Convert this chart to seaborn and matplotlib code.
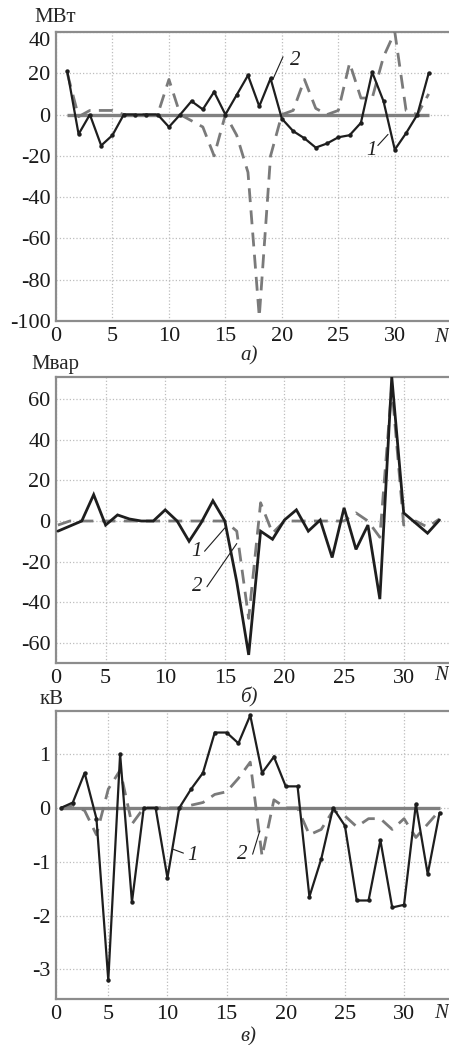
import numpy as np
import pandas as pd
import matplotlib.pyplot as plt
import seaborn as sns

# node numbers
N = list(range(1, 34))

# a) active power, MW
p_line1 = [21, -9.5, 0, -15, -10, 0, 0, 0, 0, -6, 0, 6.5, 2.5, 11, 0, 9.5, 19, 4, 17.5, -2,
           -8, -11.5, -16, -14, -11, -10, -4, 20.5, 6.5, -17, -9, 0, 20]
p_line2 = [20, -1, 2, 2, 2, 0, 0, 0, 0, 17, 0, -3, -6, -20, 0, -10, -28, -98, -20, 0,
           2, 17, 3, 0, 2, 25, 8, 8, 28, 40, 2, 0, 10]

# b) reactive power, Mvar
q_line1 = [-5, -2.5, 0, 13, -2, 3, 1, 0, 0, 5.5, 0, -10, -1, 10, 0, -30, -66, -5, -9, 0.5,
           5.5, -5, 0.5, -18, 6.5, -14, -2, -38.5, 71, 4, -1, -6, 0.5]
q_line2 = [-2, 0, 0, 0, 0, 0, 0, 0, 0, 0, 0, 0, 0, 0, 0, -5, -48, 9, -6, 0,
           0, 0, 0, 0, 0, 4, 0, -8, 66, -2, 0, -3, 1]

# c) voltage, kV
u_line1 = [0, 0.1, 0.65, -0.2, -3.2, 1.0, -1.75, 0, 0, -1.3, 0, 0.35, 0.65, 1.4, 1.4, 1.2,
           1.72, 0.65, 0.95, 0.4, 0.4, -1.65, -0.95, 0, -0.33, -1.72, -1.72, -0.6, -1.85,
           -1.8, 0.07, -1.23, -0.09]
u_line2 = [0, 0.05, -0.05, -0.5, 0.35, 0.7, -0.3, 0, 0, 0, 0, 0.05, 0.1, 0.25, 0.3, 0.55,
           0.85, -0.9, 0.15, 0, 0, -0.5, -0.4, -0.05, -0.15, -0.35, -0.2, -0.2, -0.4, -0.2,
           -0.55, -0.3, -0.05]

sns.set_style("white")
plt.rcParams['font.family'] = ['Liberation Serif', 'DejaVu Serif']
plt.rcParams['axes.unicode_minus'] = False

W, H = 449, 1045
fig = plt.figure(figsize=(W / 100, H / 100), dpi=100)

BLACK = '#1e1e1e'
GREY = '#7a7a7a'
TICK_FS = 16
LBL_FS = 15


def ftext(x, y, s, **kw):
    fig.text(x / W, 1 - y / H, s, ha='center', va='center', **kw)


def panel(top, bottom, xlim, ylim, yticks, y1, y2, markers, zero_line):
    ax = fig.add_axes([56 / W, 1 - bottom / H, 393 / W, (bottom - top) / H])
    df = pd.DataFrame({'N': N, 'l1': y1, 'l2': y2})
    sns.lineplot(data=df, x='N', y='l2', ax=ax, color=GREY, lw=2.0,
                 linestyle=(0, (5, 3)), zorder=3, sort=False)
    if zero_line:
        ax.hlines(0, N[0], N[-1], color='#808080', lw=2.4, zorder=2)
    if markers:
        sns.lineplot(data=df, x='N', y='l1', ax=ax, color=BLACK, lw=1.6, marker='o',
                     markersize=3.2, markeredgewidth=0, solid_joinstyle='miter',
                     zorder=4, sort=False)
    else:
        sns.lineplot(data=df, x='N', y='l1', ax=ax, color=BLACK, lw=2.0,
                     solid_joinstyle='miter', zorder=4, sort=False)
    ax.set_xlim(*xlim)
    ax.set_ylim(*ylim)
    xt = [xlim[0] if xlim[0] > 0 else 0, 5, 10, 15, 20, 25, 30]
    ax.set_xticks(xt)
    ax.set_xticklabels(['0', '5', '10', '15', '20', '25', '30'])
    ax.set_yticks(yticks)
    ax.set_yticklabels([str(v) for v in yticks])
    ax.grid(True, color='#bdbdbd', linestyle=':', linewidth=0.9)
    ax.set_axisbelow(True)
    ax.tick_params(length=0, labelsize=TICK_FS, pad=4, colors='#1a1a1a')
    for side in ['left', 'top', 'bottom']:
        ax.spines[side].set_color('#8c8c8c')
        ax.spines[side].set_linewidth(1.6)
    ax.spines['right'].set_visible(False)
    ax.set_xlabel('')
    ax.set_ylabel('')
    return ax


def mark(ax, s, txt_xy, tip, base):
    ax.annotate('', xy=tip, xytext=base,
                arrowprops=dict(arrowstyle='-', lw=0.8, color=BLACK, shrinkA=0, shrinkB=0))
    ax.text(txt_xy[0], txt_xy[1], s, fontsize=LBL_FS, fontstyle='italic',
            ha='center', va='center', color=BLACK)


# a)
ax1 = panel(32, 321, (0, 34.8), (-100, 40), [40, 20, 0, -20, -40, -60, -80, -100],
            p_line1, p_line2, True, True)
# top label sits just below the frame, under the unit label
ax1.get_yticklabels()[0].set_va('top')
mark(ax1, '2', (21.2, 26), (19.2, 17), (20.1, 28))
mark(ax1, '1', (27.9, -17.5), (29.4, -9.6), (28.5, -15))
ftext(55.5, 17, 'МВт', fontsize=LBL_FS)
ftext(441, 337, 'N', fontsize=LBL_FS, fontstyle='italic')
ftext(249, 356, 'а)', fontsize=LBL_FS, fontstyle='italic')

# b)
ax2 = panel(377, 663, (0.84, 33.8), (-70, 71), [60, 40, 20, 0, -20, -40, -60],
            q_line1, q_line2, False, False)
mark(ax2, '1', (12.6, -15), (15.0, -3.4), (13.3, -14.9))
mark(ax2, '2', (12.7, -32.5), (16.0, -11.1), (13.5, -32.4))
ftext(55.5, 365, 'Мвар', fontsize=LBL_FS)
ftext(441, 676, 'N', fontsize=LBL_FS, fontstyle='italic')
ftext(248.5, 697, 'б)', fontsize=LBL_FS, fontstyle='italic')

# c)
ax3 = panel(711, 999, (0.58, 33.8), (-3.55, 1.8), [1, 0, -1, -2, -3],
            u_line1, u_line2, True, True)
mark(ax3, '1', (12.1, -0.88), (10.5, -0.77), (11.35, -0.84))
mark(ax3, '2', (16.3, -0.87), (17.8, -0.43), (17.2, -0.86))
ftext(51.5, 700, 'кВ', fontsize=LBL_FS)
ftext(441, 1014, 'N', fontsize=LBL_FS, fontstyle='italic')
ftext(248, 1037, 'в)', fontsize=LBL_FS, fontstyle='italic')

fig.savefig('out.png', dpi=100)
